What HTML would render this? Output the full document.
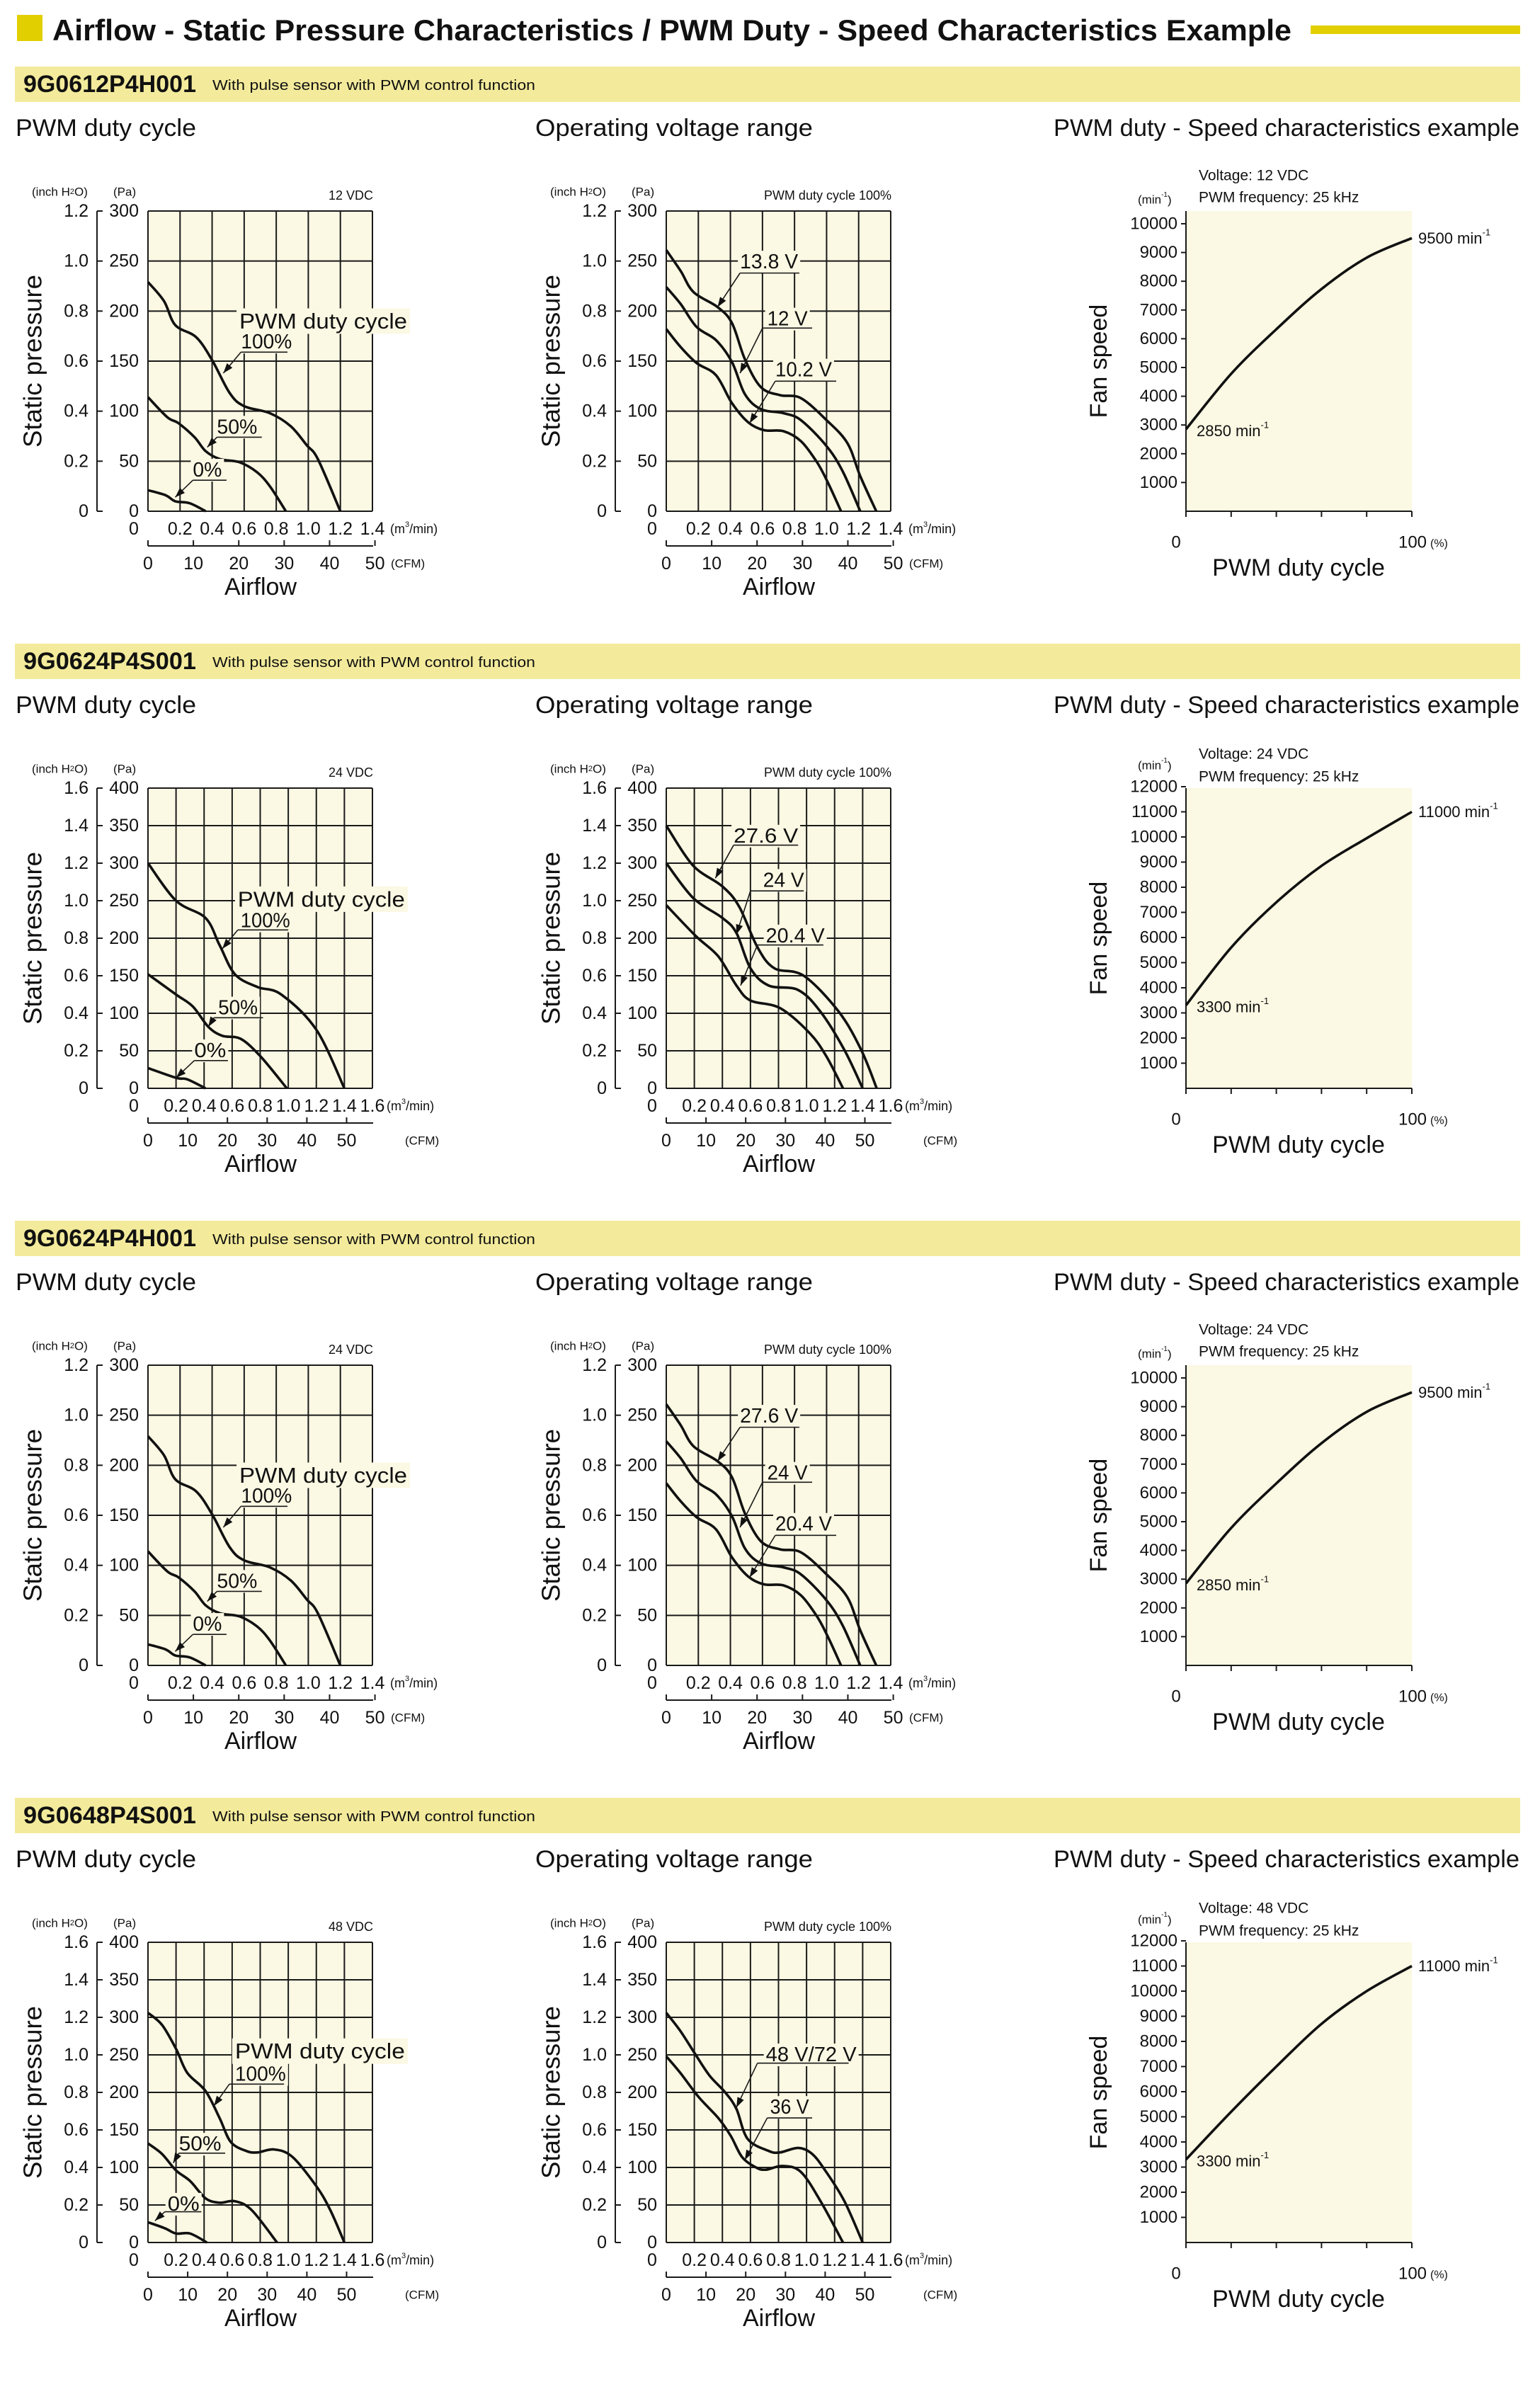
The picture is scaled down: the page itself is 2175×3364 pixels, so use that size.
<!DOCTYPE html>
<html><head><meta charset="utf-8">
<style>
html,body{margin:0;padding:0;background:#fff;}
svg{display:block;}
text{font-family:"Liberation Sans",sans-serif;fill:#111;}
.n{font-family:"Liberation Sans Narrow","Liberation Sans",sans-serif;}
</style></head>
<body>
<svg id="s" xmlns="http://www.w3.org/2000/svg" width="2175" height="3364" viewBox="0 0 2175 3364"></svg>
<script>
var BG='#fbf8e3',out=[];
function A(s){out.push(s);}
function T(x,y,s,fs,o){o=o||{};var a='<text x="'+x+'" y="'+y+'" font-size="'+fs+'" dominant-baseline="central"';
 if(o.a)a+=' text-anchor="'+o.a+'"';if(o.w)a+=' textLength="'+o.w+'" lengthAdjust="spacingAndGlyphs"';
 if(o.b)a+=' font-weight="bold"';if(o.c)a+=' class="'+o.c+'"';if(o.t)a+=' transform="'+o.t+'"';A(a+'>'+s+'</text>');}
function L(x1,y1,x2,y2,w){A('<line x1="'+x1+'" y1="'+y1+'" x2="'+x2+'" y2="'+y2+'" stroke="#1a1a1a" stroke-width="'+(w||2)+'"/>');}
function R(x,y,w,h,f){A('<rect x="'+x+'" y="'+y+'" width="'+w+'" height="'+h+'" fill="'+f+'"/>');}
function curve(p){var d='M'+p[0][0].toFixed(1)+','+p[0][1].toFixed(1);
 for(var i=0;i<p.length-1;i++){var p0=p[i-1]||p[i],p1=p[i],p2=p[i+1],p3=p[i+2]||p2;
 var c1=[p1[0]+(p2[0]-p0[0])/6,p1[1]+(p2[1]-p0[1])/6],c2=[p2[0]-(p3[0]-p1[0])/6,p2[1]-(p3[1]-p1[1])/6];
 d+=' C'+c1[0].toFixed(1)+','+c1[1].toFixed(1)+' '+c2[0].toFixed(1)+','+c2[1].toFixed(1)+' '+p2[0].toFixed(1)+','+p2[1].toFixed(1);}
 A('<path d="'+d+'" fill="none" stroke="#111" stroke-width="3.6" stroke-linejoin="round"/>');}
function arrow(x1,y1,x2,y2){L(x1,y1,x2,y2,1.6);var dx=x2-x1,dy=y2-y1,l=Math.sqrt(dx*dx+dy*dy);dx/=l;dy/=l;
 var bx=x2-dx*14,by=y2-dy*14;A('<polygon points="'+x2+','+y2+' '+(bx-dy*5)+','+(by+dx*5)+' '+(bx+dy*5)+','+(by-dx*5)+'" fill="#111"/>');}

function pchart(ox,top,c){
 var bot=top+424,cols=Math.round(c.xmax/0.2),rows=c.ymax/50,x0=ox+209,x1=ox+526,cw=(x1-x0)/cols,rh=424/rows;
 function px(x){return x0+x/0.2*cw;} function py(p){return bot-p*424/c.ymax;}
 R(x0,top,x1-x0,424,BG);
 for(var i=0;i<=cols;i++)L(x0+i*cw,top,x0+i*cw,bot);
 for(var j=0;j<=rows;j++)L(x0,top+j*rh,x1,top+j*rh);
 L(ox+137,top,ox+137,bot);
 for(j=0;j<=rows;j++){var y=bot-j*rh;L(ox+137,y,ox+145,y);
  T(ox+125,y,(j*0.2).toFixed(j?1:0),25,{a:'end',c:'n'});T(ox+196,y,String(j*50),25,{a:'end',c:'n'});}
 T(ox+45,top-27,'(inch H<tspan font-size="11">2</tspan>O)',17);T(ox+160,top-27,'(Pa)',17);
 T(x1+1,top-22,c.vl,18,{a:'end',c:'n'});
 T(ox+46,(top+bot)/2,'Static pressure',36,{a:'middle',w:244,t:'rotate(-90 '+(ox+46)+' '+((top+bot)/2)+')'});
 T(ox+189,bot+25,'0',25,{a:'middle',c:'n'});
 for(i=1;i<=cols;i++)T(x0+i*cw,bot+25,(i*0.2).toFixed(1),25,{a:'middle',c:'n'});
 T(x1+(cols==7?25:20),bot+25,'(m<tspan font-size="11" dy="-6">3</tspan><tspan dy="6">/min)</tspan>',18,{c:'n'});
 var cy=bot+49;L(x0,cy,x1+1,cy);
 for(var f=0;f<=50;f+=10){var xx=px(f*0.0283168);L(xx,cy,xx,cy-8);T(xx,cy+25,String(f),25,{a:'middle',c:'n'});}
 T(ox+(cols==7?552:572),cy+25,'(CFM)',17,{c:'n'});
 T(ox+368,bot+107,'Airflow',34,{a:'middle'});
 c.cv.forEach(function(p){curve(p.map(function(q){return[px(q[0]),py(q[1])];}));});
 c.an.forEach(function(a){var fs=a.fs||29,tx=px(a.x),ty=py(a.y);
  if(a.u){var uy=py(a.u[2]);R(tx-3,ty-16,a.w+6,32,BG);L(px(a.u[0]),uy,px(a.u[1]),uy,1.6);arrow(px(a.u[0]),uy,px(a.tip[0]),py(a.tip[1]));}
  else R(tx-4,ty-18,a.w+8,36,BG);
  T(tx,ty,a.t,fs,{w:a.w,c:'n'});});
}
function schart(top,c){
 var bot=top+424,x0=1675,x1=1994,sc=c.sc/1000;function px(x){return x0+x/100*(x1-x0);}function py(v){return bot-v*sc;}
 R(x0,top,x1-x0,424,BG);L(x0,top,x0,bot);L(x0,bot,x1,bot);
 for(var i=0;i<=5;i++){var xx=x0+i*(x1-x0)/5;L(xx,bot,xx,bot+8);}
 for(var v=1000;v<=c.max;v+=1000){L(1668,py(v),x0,py(v));T(1663,py(v),String(v),24,{a:'end',c:'n'});}
 var mo=c.max>10000?-32:-16;
 T(1607,top+mo,'(min<tspan font-size="10" dy="-7">-1</tspan><tspan dy="7">)</tspan>',17,{c:'n'});
 var vo=c.max>10000?-48:-50,fo=c.max>10000?-16:-19;
 T(1693,top+vo,'Voltage: '+c.vl,21,{c:'n'});T(1693,top+fo,'PWM frequency: 25 kHz',21,{c:'n'});
 T(1552,(top+bot)/2,'Fan speed',34,{a:'middle',t:'rotate(-90 1552 '+((top+bot)/2)+')'});
 T(1661,bot+44,'0',24,{a:'middle',c:'n'});T(1995,bot+44,'100',24,{a:'middle',c:'n'});T(2020,bot+46,'(%)',16,{c:'n'});
 T(1834,bot+80,'PWM duty cycle',34,{a:'middle'});
 curve(c.p.map(function(q){return[px(q[0]),py(q[1])];}));
 var s=c.p[0][1],e=c.p[c.p.length-1][1];
 T(1690,py(s)+2,s+' min<tspan font-size="13" dy="-9">-1</tspan>',22,{c:'n'});
 T(2003,py(e),e+' min<tspan font-size="13" dy="-9">-1</tspan>',22,{c:'n'});
}
var L1={cv:[[[0,229],[0.1,210],[0.17,186],[0.3,174],[0.4,151],[0.51,118],[0.6,105],[0.76,98],[0.89,85],[0.99,66],[1.06,52],[1.2,0]],
 [[0,114],[0.12,94],[0.19,88],[0.29,74],[0.36,60],[0.45,52],[0.57,49],[0.68,39],[0.76,25],[0.86,0]],
 [[0,21],[0.11,16],[0.17,10],[0.26,8],[0.36,0]]],
 an:[{t:'PWM duty cycle',x:0.57,y:190,w:237,fs:31},{t:'100%',x:0.58,y:169,u:[0.58,0.87,159],tip:[0.47,138],w:72},
 {t:'50%',x:0.43,y:84,u:[0.43,0.71,74],tip:[0.37,64],w:57},{t:'0%',x:0.28,y:41,u:[0.28,0.49,31],tip:[0.17,14],w:41}],xmax:1.4,ymax:300};
var M1cv=[[[0,261],[0.09,240],[0.17,219],[0.32,204],[0.41,188],[0.49,152],[0.59,124],[0.71,116],[0.84,113],[1.0,91],[1.13,68],[1.21,35],[1.31,0]],
 [[0,224],[0.09,207],[0.19,184],[0.31,171],[0.41,149],[0.49,117],[0.59,102],[0.73,98],[0.84,91],[1.0,65],[1.1,40],[1.21,0]],
 [[0,182],[0.09,164],[0.19,148],[0.31,136],[0.41,108],[0.51,89],[0.61,81],[0.73,80],[0.84,70],[0.94,49],[1.01,28],[1.09,0]]];
function M1an(a,b,c){return[{t:a,x:0.46,y:249,u:[0.46,0.83,238],tip:[0.32,204],w:82},{t:b,x:0.63,y:192,u:[0.6,0.91,183],tip:[0.46,138],w:b.length>4?82:57},{t:c,x:0.68,y:141,u:[0.68,1.06,130],tip:[0.52,88],w:80}];}
var L2={cv:[[[0,300],[0.2,250],[0.41,227],[0.51,191],[0.62,152],[0.78,135],[0.95,125],[1.2,78],[1.4,0]],
 [[0,152],[0.2,125],[0.32,109],[0.43,82],[0.53,70],[0.66,66],[0.8,43],[0.99,0]],
 [[0,27],[0.2,14],[0.28,12],[0.41,0]]],
 an:[{t:'PWM duty cycle',x:0.64,y:252,w:236,fs:31},{t:'100%',x:0.66,y:223,u:[0.64,1.0,211],tip:[0.53,186],w:70},
 {t:'50%',x:0.5,y:107,u:[0.47,0.82,94],tip:[0.43,82],w:56},{t:'0%',x:0.33,y:50,u:[0.33,0.57,37],tip:[0.2,14],w:45}],xmax:1.6,ymax:400,vl:'24 VDC'};
var M2={cv:[[[0,350],[0.19,297],[0.4,269],[0.52,242],[0.65,188],[0.77,160],[0.98,150],[1.23,102],[1.39,51],[1.5,0]],
 [[0,300],[0.19,254],[0.4,227],[0.5,207],[0.6,160],[0.73,137],[0.94,131],[1.1,102],[1.27,51],[1.4,0]],
 [[0,244],[0.21,203],[0.37,176],[0.5,137],[0.6,117],[0.81,107],[1.02,74],[1.14,43],[1.26,0]]],
 an:[{t:'27.6 V',x:0.48,y:336,u:[0.48,0.94,324],tip:[0.35,280],w:91},{t:'24 V',x:0.69,y:277,u:[0.6,0.98,263],tip:[0.5,205],w:58},
 {t:'20.4 V',x:0.71,y:203,u:[0.65,1.12,191],tip:[0.53,137],w:83}],xmax:1.6,ymax:400,vl:'PWM duty cycle 100%'};
var L4={cv:[[[0,306],[0.1,290],[0.2,258],[0.28,226],[0.41,202],[0.51,166],[0.59,134],[0.7,122],[0.78,120],[0.9,124],[1.03,114],[1.2,75],[1.3,43],[1.4,0]],
 [[0,132],[0.1,118],[0.2,96],[0.3,82],[0.41,59],[0.51,53],[0.62,55],[0.74,43],[0.92,0]],
 [[0,27],[0.12,19],[0.2,12],[0.3,12],[0.42,0]]],
 an:[{t:'PWM duty cycle',x:0.62,y:255,w:240,fs:31},{t:'100%',x:0.62,y:224,u:[0.58,0.97,211],tip:[0.47,182],w:72},
 {t:'50%',x:0.22,y:131,u:[0.22,0.55,119],tip:[0.18,106],w:60},{t:'0%',x:0.14,y:51,u:[0.12,0.38,41],tip:[0.05,29],w:45}],xmax:1.6,ymax:400,vl:'48 VDC'};
var M4={cv:[[[0,306],[0.1,282],[0.21,250],[0.31,222],[0.42,200],[0.5,178],[0.58,138],[0.73,122],[0.81,120],[0.94,126],[1.04,118],[1.14,94],[1.27,55],[1.4,0]],
 [[0,248],[0.1,226],[0.23,194],[0.37,166],[0.46,142],[0.54,114],[0.64,100],[0.71,97],[0.83,102],[0.96,94],[1.1,55],[1.26,0]]],
 an:[{t:'48 V/72 V',x:0.71,y:250,u:[0.65,1.3,239],tip:[0.5,180],w:128},{t:'36 V',x:0.74,y:180,u:[0.72,1.04,166],tip:[0.56,110],w:55}],xmax:1.6,ymax:400,vl:'PWM duty cycle 100%'};
var S1=[[0,2850],[20,4780],[40,6330],[60,7730],[80,8820],[100,9500]];
var S2=[[0,3300],[20,5600],[40,7400],[60,8850],[80,9950],[100,11000]];
var S4=[[0,3300],[20,5200],[40,7000],[60,8700],[80,10000],[100,11000]];
function cp(o,x){var r={};for(var k in o)r[k]=o[k];for(k in x)r[k]=x[k];return r;}
var secs=[
 {id:'9G0612P4H001',L:cp(L1,{vl:'12 VDC'}),M:{cv:M1cv,an:M1an('13.8 V','12 V','10.2 V'),xmax:1.4,ymax:300,vl:'PWM duty cycle 100%'},S:{p:S1,sc:40.6,max:10000,vl:'12 VDC'}},
 {id:'9G0624P4S001',L:L2,M:M2,S:{p:S2,sc:35.5,max:12000,vl:'24 VDC'}},
 {id:'9G0624P4H001',L:cp(L1,{vl:'24 VDC'}),M:{cv:M1cv,an:M1an('27.6 V','24 V','20.4 V'),xmax:1.4,ymax:300,vl:'PWM duty cycle 100%'},S:{p:S1,sc:40.6,max:10000,vl:'24 VDC'}},
 {id:'9G0648P4S001',L:L4,M:M4,S:{p:S4,sc:35.5,max:12000,vl:'48 VDC'}}];
R(24,21,36,37,'#e2cf00');R(1851,36,296,12,'#e2cf00');
A('<text x="74" y="57" font-size="42" font-weight="bold" textLength="1750" lengthAdjust="spacingAndGlyphs">Airflow - Static Pressure Characteristics / PWM Duty - Speed Characteristics Example</text>');
secs.forEach(function(s,k){var oy=815*k,top=298+oy;
 R(21,94+oy,2126,50,'#f3eb9b');
 T(33,119+oy,s.id,34,{b:1,w:244});
 T(300,121+oy,'With pulse sensor with PWM control function',20,{w:456});
 T(22,181+oy,'PWM duty cycle',34,{w:255});
 T(756,181+oy,'Operating voltage range',34,{w:392});
 T(1488,181+oy,'PWM duty - Speed characteristics example',34,{w:658});
 pchart(0,top,s.L);pchart(732,top,s.M);schart(top,s.S);
});
document.getElementById('s').innerHTML=out.join('');
</script>
</body></html>
